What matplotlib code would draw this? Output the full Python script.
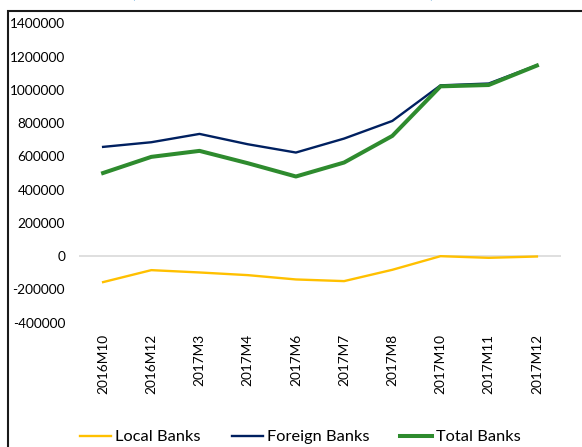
import matplotlib
matplotlib.use("Agg")
import matplotlib.pyplot as plt
from matplotlib.patches import Rectangle

plt.rcParams["font.family"] = ["Lato", "DejaVu Sans"]

periods = ["2016M10", "2016M12", "2017M3", "2017M4", "2017M6",
           "2017M7", "2017M8", "2017M10", "2017M11", "2017M12"]
local_banks = [-156000, -84000, -98000, -114000, -140000,
               -150000, -82000, 0, -10000, -2000]
foreign_banks = [657000, 685000, 735000, 673000, 623000,
                 707000, 813000, 1027000, 1038000, 1148000]
total_banks = [500000, 597000, 633000, 559000, 479000,
               563000, 723000, 1021000, 1029000, 1146000]
yticks = [-400000, -200000, 0, 200000, 400000, 600000,
          800000, 1000000, 1200000, 1400000]

W, H = 582, 447
fig = plt.figure(figsize=(W / 100, H / 100), dpi=100)
ax = fig.add_axes([79 / W, (H - 322.7) / H, (561 - 79) / W, (322.7 - 23.3) / H])

x = list(range(len(periods)))
ax.axhline(0, color="#D9D9D9", lw=1.2, zorder=1)
ax.plot(x, local_banks, color="#FFC000", lw=1.7, label="Local Banks", zorder=3)
ax.plot(x, foreign_banks, color="#002060", lw=1.7, label="Foreign Banks", zorder=3)
ax.plot(x, total_banks, color="#2E8B2E", lw=2.9, label="Total Banks", zorder=4)

ax.set_xlim(-0.5, len(periods) - 0.5)
ax.set_ylim(-400000, 1400000)
ax.set_yticks(yticks)
ax.set_yticklabels([str(v) for v in yticks], fontsize=9.8)
ax.set_xticks(x)
ax.set_xticklabels(periods, rotation=90, fontsize=9.8)
ax.tick_params(length=0)
ax.tick_params(axis="y", pad=10)
ax.tick_params(axis="x", pad=8)
for s in ax.spines.values():
    s.set_visible(False)

fig.legend(loc="center", bbox_to_anchor=(300 / W, (H - 437) / H), ncol=3,
           frameon=False, fontsize=11.8, handlelength=1.9, handletextpad=0.25,
           columnspacing=1.9)

# chart frame (cut by the image edge on the right and bottom)
fig.patches.append(Rectangle((7.5 / W, -0.1), 1.2, (H - 11) / H + 0.1,
                             transform=fig.transFigure, fill=False,
                             edgecolor="#1a1a1a", lw=1.5))

# title mostly above the visible area
fig.text(133 / W, 1 + 1.5 / H, "(", color="#0070C0", fontsize=13, ha="center", va="baseline")
fig.text(432 / W, 1 + 1.5 / H, ")", color="#0070C0", fontsize=13, ha="center", va="baseline")

fig.savefig("out.png", dpi=100)
